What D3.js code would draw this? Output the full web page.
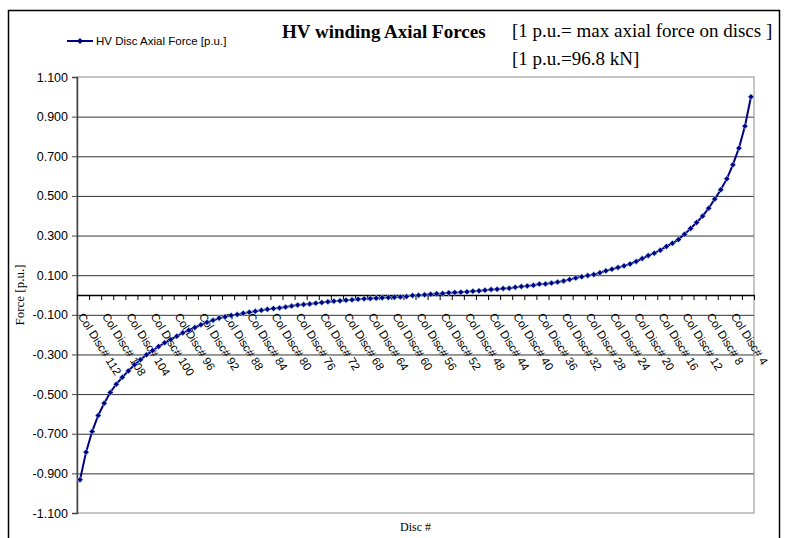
<!DOCTYPE html>
<html>
<head>
<meta charset="utf-8">
<script src="https://cdn.jsdelivr.net/npm/d3@7/dist/d3.min.js"></script>
<style>
  body { margin: 0; background: #fff; }
  svg { display: block; }
</style>
</head>
<body>
<div id="chart"></div>
<script>
// disc numbers, left (112) to right (1)
const discNumbers = d3.range(112, 0, -1);
const categories = discNumbers.map(n => 'Col Disc# ' + n);

// HV disc axial force [p.u.], one value per disc in the same order
const forceValues = [
  -0.932, -0.793, -0.689, -0.608, -0.546, -0.492, -0.450, -0.415, -0.383, -0.352,
  -0.327, -0.302, -0.280, -0.260, -0.241, -0.225, -0.208, -0.191, -0.178, -0.164,
  -0.150, -0.138, -0.128, -0.117, -0.110, -0.103, -0.098, -0.092, -0.087, -0.082,
  -0.077, -0.072, -0.068, -0.065, -0.061, -0.056, -0.051, -0.048, -0.045, -0.041,
  -0.038, -0.034, -0.031, -0.029, -0.026, -0.024, -0.021, -0.019, -0.018, -0.016,
  -0.014, -0.013, -0.011, -0.010, -0.008, -0.003, -0.001, 0.001, 0.004, 0.006,
  0.008, 0.011, 0.013, 0.014, 0.016, 0.019, 0.021, 0.024, 0.028, 0.029,
  0.033, 0.034, 0.039, 0.043, 0.046, 0.049, 0.055, 0.056, 0.060, 0.065,
  0.071, 0.078, 0.086, 0.092, 0.098, 0.103, 0.112, 0.122, 0.130, 0.139,
  0.147, 0.157, 0.169, 0.184, 0.199, 0.211, 0.226, 0.245, 0.261, 0.280,
  0.307, 0.336, 0.366, 0.398, 0.438, 0.484, 0.531, 0.586, 0.657, 0.741,
  0.852, 1.000
];

const yTickValues = [-1.1, -0.9, -0.7, -0.5, -0.3, -0.1, 0.1, 0.3, 0.5, 0.7, 0.9, 1.1];
const labelEvery = 4;   // one label per 4 discs
const tickEvery = 2;    // one tick mark per 2 discs

const W = 786, H = 538;
const plot = { left: 77, right: 754, top: 77, bottom: 513 };
const navy = '#000080';
const sans = '"Liberation Sans", Arial, sans-serif';
const serif = '"Liberation Serif", "Times New Roman", serif';

const svg = d3.select('#chart').append('svg')
  .attr('width', W)
  .attr('height', H);

// outer chart frame (bottom edge falls off the picture)
svg.append('rect')
  .attr('x', 8.5).attr('y', 10.5)
  .attr('width', 771).attr('height', 545)
  .attr('fill', '#fff')
  .attr('stroke', '#000')
  .attr('stroke-width', 1.5);

const x = d3.scaleBand()
  .domain(categories)
  .range([plot.left, plot.right]);

const xIndex = d3.scaleLinear()
  .domain([0, categories.length])
  .range([plot.left, plot.right]);

const y = d3.scaleLinear()
  .domain([-1.1, 1.1])
  .range([plot.bottom, plot.top]);

// gridlines
svg.append('g')
  .attr('class', 'grid')
  .attr('transform', `translate(${plot.left},0)`)
  .call(d3.axisLeft(y)
    .tickValues(yTickValues.filter(v => Math.abs(v) < 1.05))
    .tickSize(-(plot.right - plot.left))
    .tickFormat(''))
  .call(g => g.select('.domain').remove())
  .call(g => g.selectAll('line').attr('stroke', '#333'));

// plot area border
svg.append('rect')
  .attr('x', plot.left).attr('y', plot.top)
  .attr('width', plot.right - plot.left)
  .attr('height', plot.bottom - plot.top)
  .attr('fill', 'none')
  .attr('stroke', '#8c8c8c');

// y axis
svg.append('g')
  .attr('class', 'axis axis-y')
  .attr('transform', `translate(${plot.left},0)`)
  .call(d3.axisLeft(y)
    .tickValues(yTickValues)
    .tickSize(5)
    .tickPadding(4)
    .tickFormat(d => d.toFixed(3)))
  .call(g => g.select('.domain').attr('stroke', '#444').attr('stroke-width', 1.5))
  .call(g => g.selectAll('.tick line').attr('stroke', '#444'))
  .call(g => g.selectAll('text')
    .attr('font-family', sans)
    .attr('font-size', 12.5)
    .attr('fill', '#000'));

// x axis line and tick marks, crossing at 0
svg.append('g')
  .attr('class', 'axis axis-x')
  .attr('transform', `translate(0,${y(0)})`)
  .call(d3.axisBottom(xIndex)
    .tickValues(d3.range(0, categories.length + 1, tickEvery))
    .tickSize(5)
    .tickSizeOuter(0)
    .tickFormat(''))
  .call(g => g.select('.domain').attr('stroke', '#000').attr('stroke-width', 1.5))
  .call(g => g.selectAll('.tick line').attr('stroke', '#000'));

// rotated category labels
svg.append('g')
  .attr('class', 'axis axis-x-labels')
  .attr('transform', `translate(0,${y(0)})`)
  .call(d3.axisBottom(x)
    .tickValues(categories.filter((c, i) => i % labelEvery === 0))
    .tickSize(0))
  .call(g => g.select('.domain').remove())
  .call(g => g.selectAll('text')
    .attr('x', 0).attr('y', 0).attr('dy', '0.35em')
    .attr('transform', 'translate(1,19) rotate(58)')
    .attr('text-anchor', 'start')
    .attr('font-family', sans)
    .attr('font-size', 11.5)
    .attr('fill', '#000'));

// series
const cx = (d, i) => x(categories[i]) + x.bandwidth() / 2;

svg.append('path')
  .datum(forceValues)
  .attr('fill', 'none')
  .attr('stroke', navy)
  .attr('stroke-width', 2)
  .attr('d', d3.line().x(cx).y(d => y(d)));

const marker = d3.symbol(d3.symbolSquare, 18);

svg.append('g')
  .selectAll('path')
  .data(forceValues)
  .enter().append('path')
  .attr('d', marker)
  .attr('transform', (d, i) => `translate(${cx(d, i)},${y(d)}) rotate(45)`)
  .attr('fill', navy)
  .attr('stroke', '#a8dcf0')
  .attr('stroke-width', 0.6);

// legend
const legend = svg.append('g').attr('transform', 'translate(67,41)');
legend.append('line')
  .attr('x1', 0).attr('x2', 26)
  .attr('stroke', navy)
  .attr('stroke-width', 2);
legend.append('path')
  .attr('d', marker)
  .attr('transform', 'translate(13,0) rotate(45)')
  .attr('fill', navy);
legend.append('text')
  .attr('x', 29).attr('y', 4)
  .attr('font-family', sans)
  .attr('font-size', 11.5)
  .text('HV Disc Axial Force [p.u.]');

// titles
svg.append('text')
  .attr('x', 282).attr('y', 38)
  .attr('font-family', serif)
  .attr('font-weight', 'bold')
  .attr('font-size', 19)
  .text('HV winding Axial Forces');

svg.append('text')
  .attr('x', 512).attr('y', 37)
  .attr('font-family', serif)
  .attr('font-size', 19)
  .text('[1 p.u.= max axial force on discs ]');

svg.append('text')
  .attr('x', 512).attr('y', 65)
  .attr('font-family', serif)
  .attr('font-size', 19)
  .text('[1 p.u.=96.8 kN]');

svg.append('text')
  .attr('transform', `translate(24,${(plot.top + plot.bottom) / 2}) rotate(-90)`)
  .attr('text-anchor', 'middle')
  .attr('font-family', serif)
  .attr('font-size', 13)
  .text('Force [p.u.]');

svg.append('text')
  .attr('x', (plot.left + plot.right) / 2)
  .attr('y', 531)
  .attr('text-anchor', 'middle')
  .attr('font-family', serif)
  .attr('font-size', 12)
  .text('Disc #');
</script>
</body>
</html>
